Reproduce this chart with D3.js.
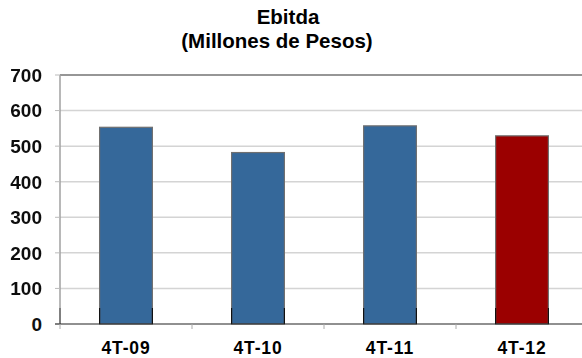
<!DOCTYPE html>
<html>
<head>
<meta charset="utf-8">
<script src="https://cdn.jsdelivr.net/npm/d3@7"></script>
<style>
  html, body { margin: 0; padding: 0; background: #fff; }
  svg { display: block; font-family: Arial, "Liberation Sans", sans-serif; }
</style>
</head>
<body>
<svg id="chart" width="582" height="358"></svg>
<script>
// Quarterly EBITDA, millions of pesos
const categories = ["4T-09", "4T-10", "4T-11", "4T-12"];
const values = [553, 482, 557, 529];
const barColors = ["#35679a", "#35679a", "#35679a", "#9b0000"];
const yTicks = [0, 100, 200, 300, 400, 500, 600, 700];

const svg = d3.select("#chart");
const plot = { left: 60, right: 588, top: 75, bottom: 324 };

const x = d3.scaleBand().domain(categories).range([plot.left, plot.right]).padding(0);
const y = d3.scaleLinear().domain([0, 700]).range([plot.bottom, plot.top]);
const barW = x.bandwidth() * 0.4;

const defs = svg.append("defs");
defs.append("filter").attr("id", "soft").attr("x", "-10%").attr("y", "-10%").attr("width", "120%").attr("height", "120%")
  .append("feGaussianBlur").attr("stdDeviation", 0.7);

// gridlines
svg.append("g")
  .selectAll("line")
  .data(yTicks.filter(d => d > 0 && d < 700))
  .join("line")
  .attr("x1", plot.left).attr("x2", plot.right)
  .attr("y1", d => y(d)).attr("y2", d => y(d))
  .attr("stroke", "#d4d4d4").attr("stroke-width", 1.5);

// plot frame: top and left edges
svg.append("line")
  .attr("x1", plot.left).attr("x2", plot.right)
  .attr("y1", y(700)).attr("y2", y(700))
  .attr("stroke", "#969696").attr("stroke-width", 2);
svg.append("line")
  .attr("x1", plot.left).attr("x2", plot.left)
  .attr("y1", y(700)).attr("y2", y(45))
  .attr("stroke", "#a0a0a0").attr("stroke-width", 1.5);
svg.append("line")
  .attr("x1", plot.left).attr("x2", plot.left)
  .attr("y1", y(45)).attr("y2", y(0))
  .attr("stroke", "#000").attr("stroke-width", 1);

// y-axis tick stubs
svg.append("g")
  .selectAll("line")
  .data(yTicks)
  .join("line")
  .attr("x1", plot.left - 5).attr("x2", plot.left)
  .attr("y1", d => y(d)).attr("y2", d => y(d))
  .attr("stroke", "#bbb").attr("stroke-width", 1);

// bars
const bars = svg.append("g");
bars.selectAll("rect.bar")
  .data(values)
  .join("rect")
  .attr("class", "bar")
  .attr("x", (d, i) => x(categories[i]) + (x.bandwidth() - barW) / 2)
  .attr("y", d => y(d))
  .attr("width", barW)
  .attr("height", d => y(0) - y(d))
  .attr("fill", (d, i) => barColors[i])
  .attr("stroke", "#707070")
  .attr("stroke-width", 1.2)
  .attr("filter", "url(#soft)");

// dark edges at the foot of each bar
bars.selectAll("path.foot")
  .data(values)
  .join("path")
  .attr("class", "foot")
  .attr("d", (d, i) => {
    const x0 = x(categories[i]) + (x.bandwidth() - barW) / 2;
    const x1 = x0 + barW;
    const top = y(45);
    return `M${x0},${top}V${y(0)}M${x1},${top}V${y(0)}`;
  })
  .attr("stroke", "#111").attr("stroke-width", 1.2).attr("fill", "none");

// baseline and category ticks
svg.append("line")
  .attr("x1", plot.left - 5).attr("x2", plot.right)
  .attr("y1", y(0)).attr("y2", y(0))
  .attr("stroke", "#222").attr("stroke-width", 1.2);
svg.append("g")
  .selectAll("line")
  .data(categories)
  .join("line")
  .attr("x1", d => x(d)).attr("x2", d => x(d))
  .attr("y1", y(0)).attr("y2", y(0) + 5)
  .attr("stroke", "#aaa").attr("stroke-width", 1);

// y tick labels
svg.append("g")
  .selectAll("text")
  .data(yTicks)
  .join("text")
  .attr("x", 42)
  .attr("y", d => y(d))
  .attr("dy", "0.36em")
  .attr("text-anchor", "end")
  .attr("font-size", 19)
  .attr("font-weight", "bold")
  .attr("fill", "#111")
  .attr("filter", d => d === 0 ? null : "url(#soft)")
  .text(d => d);

// category labels
svg.append("g")
  .selectAll("text")
  .data(categories)
  .join("text")
  .attr("x", d => x(d) + x.bandwidth() / 2)
  .attr("y", 354)
  .attr("text-anchor", "middle")
  .attr("font-size", 17.5)
  .attr("font-weight", "bold")
  .attr("letter-spacing", 0.9)
  .attr("fill", "#000")
  .text(d => d);

// title
const title = svg.append("text")
  .attr("text-anchor", "middle")
  .attr("font-size", 20.5)
  .attr("font-weight", "bold")
  .attr("fill", "#000");
title.append("tspan").attr("x", 288).attr("y", 24).text("Ebitda");
title.append("tspan").attr("x", 277).attr("y", 48).text("(Millones de Pesos)");
</script>
</body>
</html>
